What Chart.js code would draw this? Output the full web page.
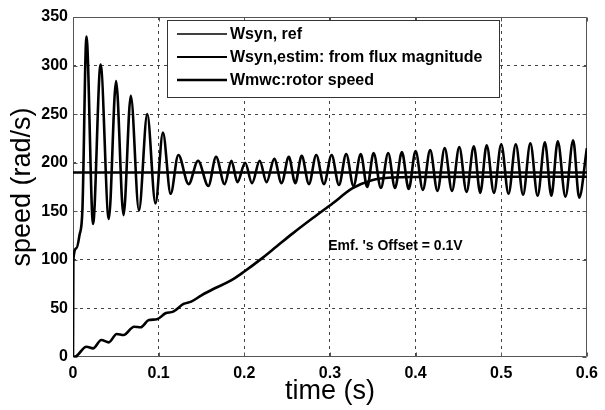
<!DOCTYPE html>
<html><head><meta charset="utf-8">
<script src="https://cdn.jsdelivr.net/npm/chart.js@4"></script>
<style>html,body{margin:0;padding:0;background:#fff;}canvas{display:block;}</style>
</head><body>
<canvas id="c" width="605" height="410"></canvas>
<script>
// ---- data ----
const xTickValues = [0, 0.1, 0.2, 0.3, 0.4, 0.5, 0.6];
const xTickLabels = ['0', '0.1', '0.2', '0.3', '0.4', '0.5', '0.6'];
const yTickValues = [0, 50, 100, 150, 200, 250, 300, 350];
const yTickLabels = ['0', '50', '100', '150', '200', '250', '300', '350'];
const seriesNames = ['Wsyn, ref', 'Wsyn,estim: from flux magnitude', 'Wmwc:rotor speed'];
const xTitle = 'time (s)';
const yTitle = 'speed (rad/s)';
const annotationText = "Emf. 's Offset = 0.1V";

const refTime = [0, 0.6];
const refSpeed = [190, 190];

const estimTime = [0, 0.0004, 0.004, 0.0075, 0.011, 0.0157, 0.0234, 0.0322, 0.0418, 0.0503, 0.059, 0.0675, 0.077, 0.0867, 0.0963, 0.105, 0.114, 0.123, 0.135, 0.146, 0.158, 0.167, 0.177, 0.185, 0.192, 0.201, 0.209, 0.218, 0.226, 0.235, 0.2435, 0.252, 0.2595, 0.267, 0.2755, 0.284, 0.293, 0.302, 0.3105, 0.319, 0.3275, 0.336, 0.3435, 0.351, 0.3595, 0.368, 0.376, 0.384, 0.392, 0.400, 0.4085, 0.417, 0.4255, 0.434, 0.4425, 0.451, 0.4595, 0.468, 0.4755, 0.483, 0.4915, 0.5, 0.5085, 0.517, 0.5255, 0.534, 0.5425, 0.551, 0.5585, 0.566, 0.575, 0.584, 0.591, 0.6];
const estimSpeed = [0, 100, 112, 125, 152, 330, 137, 301, 142, 284, 146, 269, 151, 250, 158, 231, 168, 208, 178, 202, 176, 206, 178, 202, 180, 200, 179, 202, 180, 204, 179, 206, 179, 207, 178, 208, 178, 208, 177, 209, 176, 209, 175, 210, 174, 210, 174, 211, 173, 212, 172, 213, 171, 215, 171, 216, 170, 217, 169, 218, 169, 219, 168, 219, 167, 220, 166, 221, 166, 222, 165, 223, 164, 215];

const rotorTime = [0, 0.004, 0.0157, 0.0234, 0.033, 0.0418, 0.051, 0.059, 0.0713, 0.079, 0.0886, 0.098, 0.108, 0.117, 0.129, 0.138, 0.15, 0.165, 0.184, 0.2, 0.219, 0.238, 0.257, 0.28, 0.303, 0.326, 0.349, 0.372, 0.4, 0.5, 0.6];
const rotorSpeed = [0, 1, 10.6, 8.9, 17.5, 15.1, 23.7, 22.6, 31.2, 30.6, 38.1, 38.8, 45, 46.7, 54.6, 57, 63.5, 70.5, 78.5, 88, 100.5, 114, 127.5, 143, 158, 173.5, 182, 184.8, 185.3, 185.5, 185.5];

// ---- helpers ----
const toPoints = (xs, ys) => xs.map((x, i) => ({x: x, y: ys[i]}));
const FONT = "'Liberation Sans', Arial, Helvetica, sans-serif";

const frameAndOverlay = {
  id: 'frameAndOverlay',
  beforeDatasetsDraw(chart) {
    const {ctx, chartArea: a, scales: {x, y}} = chart;
    ctx.save();
    ctx.setLineDash([]);
    ctx.strokeStyle = '#555';
    ctx.lineWidth = 1;
    const L = Math.round(a.left) + 0.5, R = Math.round(a.right) - 0.5;
    const T = Math.round(a.top) + 0.5, B = Math.round(a.bottom) - 0.5;
    ctx.beginPath();
    ctx.moveTo(L, T); ctx.lineTo(R, T); ctx.lineTo(R, B); ctx.lineTo(L, B); ctx.closePath();
    ctx.stroke();
    // inward tick marks
    ctx.beginPath();
    xTickValues.forEach(v => {
      const px = Math.round(x.getPixelForValue(v)) + 0.5;
      ctx.moveTo(px, B); ctx.lineTo(px, B - 4);
      ctx.moveTo(px, T); ctx.lineTo(px, T + 4);
    });
    yTickValues.forEach(v => {
      const py = Math.round(y.getPixelForValue(v)) + 0.5;
      ctx.moveTo(L, py); ctx.lineTo(L + 4, py);
      ctx.moveTo(R, py); ctx.lineTo(R - 4, py);
    });
    ctx.stroke();
    ctx.restore();
  },
  afterDatasetsDraw(chart) {
    const {ctx, chartArea: a, scales: {x, y}} = chart;
    ctx.save();
    ctx.setLineDash([]);
    // legend box
    const lx = Math.round(a.left) + 94, ly = Math.round(a.top) + 3, lw = 332, lh = 77;
    ctx.fillStyle = '#fff';
    ctx.fillRect(lx, ly, lw, lh);
    ctx.strokeStyle = '#333';
    ctx.lineWidth = 1;
    ctx.strokeRect(lx + 0.5, ly + 0.5, lw, lh);
    const widths = [1.6, 2.2, 2.4];
    ctx.font = 'bold 16px ' + FONT;
    ctx.textBaseline = 'middle';
    ctx.textAlign = 'left';
    seriesNames.forEach((name, i) => {
      const yy = ly + 14 + i * 23;
      ctx.strokeStyle = '#000';
      ctx.lineWidth = widths[i];
      ctx.beginPath();
      ctx.moveTo(lx + 10, yy); ctx.lineTo(lx + 60, yy);
      ctx.stroke();
      ctx.fillStyle = '#000';
      ctx.fillText(name, lx + 63, yy + 1);
    });
    // annotation
    ctx.font = 'bold 14px ' + FONT;
    ctx.fillStyle = '#000';
    ctx.textBaseline = 'middle';
    ctx.fillText(annotationText, x.getPixelForValue(0.298), y.getPixelForValue(114));
    ctx.restore();
  }
};

const gridColor = (c) => (c.index === 0 || c.index === c.scale.ticks.length - 1) ? 'rgba(0,0,0,0)' : '#444';

new Chart(document.getElementById('c'), {
  type: 'line',
  data: {
    datasets: [
      {label: seriesNames[0], data: toPoints(refTime, refSpeed), borderColor: '#000', borderWidth: 2.4, pointRadius: 0, tension: 0},
      {label: seriesNames[1], data: toPoints(estimTime, estimSpeed), borderColor: '#000', borderWidth: 2.6, pointRadius: 0, cubicInterpolationMode: 'monotone'},
      {label: seriesNames[2], data: toPoints(rotorTime, rotorSpeed), borderColor: '#000', borderWidth: 2.6, pointRadius: 0, cubicInterpolationMode: 'monotone'}
    ]
  },
  options: {
    responsive: false,
    animation: false,
    devicePixelRatio: 1,
    layout: {padding: {left: 0, right: 11, top: 17, bottom: 0}},
    plugins: {legend: {display: false}, tooltip: {enabled: false}},
    scales: {
      x: {
        type: 'linear', min: 0, max: 0.6,
        afterBuildTicks: s => { s.ticks = xTickValues.map(v => ({value: v})); },
        afterFit: s => { s.height = 53; },
        ticks: {
          callback: (v, i) => xTickLabels[i],
          color: '#000', padding: 7, maxRotation: 0, autoSkip: false,
          font: {family: FONT, size: 16, weight: 'bold'}
        },
        grid: {color: gridColor, lineWidth: 1, drawTicks: false},
        border: {display: false, dash: [3, 4]},
        title: {display: true, text: xTitle, color: '#000', padding: {top: 0, bottom: 2},
                font: {family: FONT, size: 27, weight: 'normal'}}
      },
      y: {
        type: 'linear', min: 0, max: 350,
        afterBuildTicks: s => { s.ticks = yTickValues.map(v => ({value: v})); },
        afterFit: s => { s.width = 73; },
        ticks: {
          callback: (v, i) => yTickLabels[i],
          color: '#000', padding: 5, autoSkip: false,
          font: {family: FONT, size: 16, weight: 'bold'}
        },
        grid: {color: gridColor, lineWidth: 1, drawTicks: false},
        border: {display: false, dash: [3, 4]},
        title: {display: true, text: yTitle, color: '#000', padding: {top: 6, bottom: 0},
                font: {family: FONT, size: 27, weight: 'normal'}}
      }
    }
  },
  plugins: [frameAndOverlay]
});
</script>
</body></html>
